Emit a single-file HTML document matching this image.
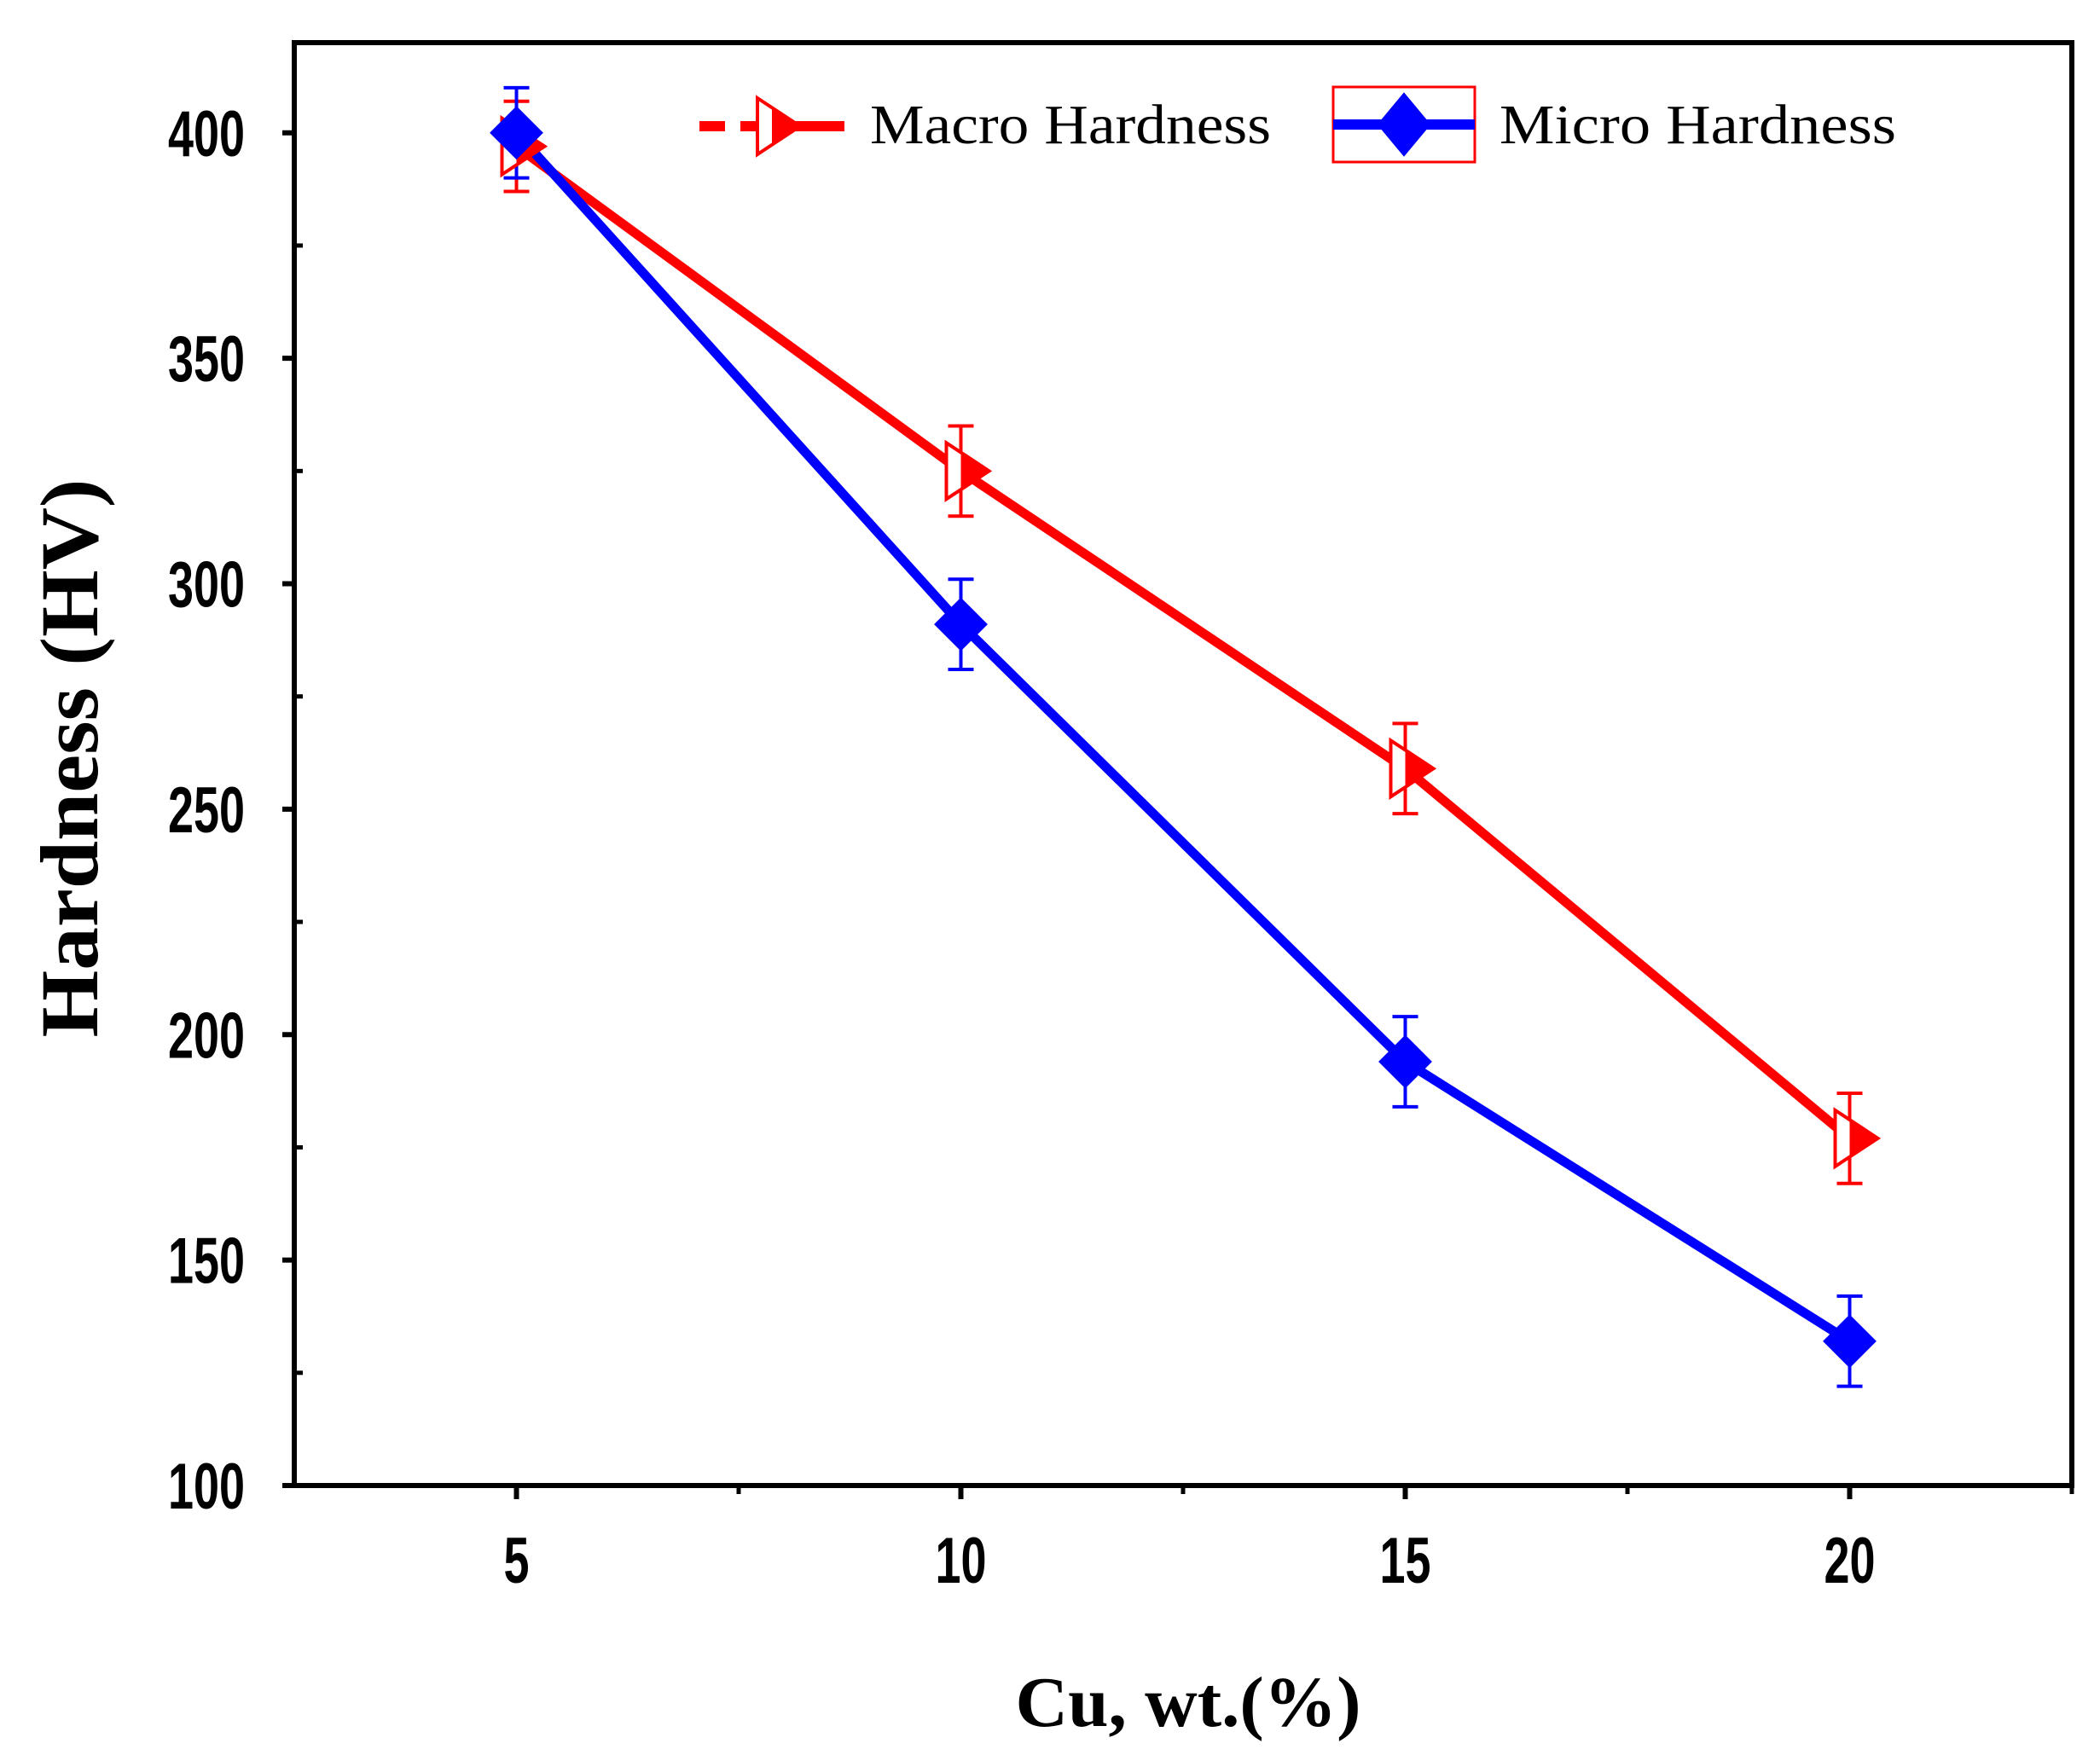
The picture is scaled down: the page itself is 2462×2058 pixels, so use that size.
<!DOCTYPE html>
<html><head><meta charset="utf-8"><style>
body{margin:0;background:#fff}
svg{display:block}
</style></head><body>
<svg width="2462" height="2058" viewBox="0 0 2462 2058" xmlns="http://www.w3.org/2000/svg">
<g id="chart"></g>
</svg>
<script>
const xCats=[5,10,15,20];
const macroVals=[397,325,259,177];
const microVals=[400,291,194,132];
const macroErr=[10,10,10,10];
const microErr=[10,10,10,10];
const yTicks=[100,150,200,250,300,350,400];
const xTicks=[5,10,15,20];

const L=345,R=2429,T=50,B=1742;
const xMin=2.5,xMax=22.5,yMin=100,yMax=420;
function sx(v){return L+(v-xMin)/(xMax-xMin)*(R-L);}
function sy(v){return B-(v-yMin)/(yMax-yMin)*(B-T);}
const NS='http://www.w3.org/2000/svg';
const g=document.getElementById('chart');
function mk(tag,attrs,parent){const e=document.createElementNS(NS,tag);for(const k in attrs)e.setAttribute(k,attrs[k]);(parent||g).appendChild(e);return e;}

const frame=mk('rect',{x:L,y:T,width:R-L,height:B-T,fill:'none',stroke:'#000','stroke-width':6});



yTicks.forEach(v=>{
  const t=mk('line',{x1:L-14,x2:L,y1:sy(v),y2:sy(v),stroke:'#000','stroke-width':6});
  
  
  if(v+25<yMax){
    const m=mk('line',{x1:L,x2:L+10,y1:sy(v+25),y2:sy(v+25),stroke:'#000','stroke-width':5});
    
    
  }
  const s=String(v);
  const tx=mk('text',{x:L-58,y:sy(v)+27,'text-anchor':'end','font-family':'Liberation Sans, sans-serif','font-weight':'bold','font-size':76,textLength:s.length*30,lengthAdjust:'spacingAndGlyphs'});
  tx.textContent=s;
  
  
});
xTicks.forEach(v=>{
  const t=mk('line',{x1:sx(v),x2:sx(v),y1:B,y2:B+16,stroke:'#000','stroke-width':6});
  
  
  const m=mk('line',{x1:sx(v+2.5),x2:sx(v+2.5),y1:B,y2:B+10,stroke:'#000','stroke-width':5});
  
  
  const s=String(v);
  const tx=mk('text',{x:sx(v),y:B+114,'text-anchor':'middle','font-family':'Liberation Sans, sans-serif','font-weight':'bold','font-size':76,textLength:s.length*30,lengthAdjust:'spacingAndGlyphs'});
  tx.textContent=s;
  
  
});

const yt=mk('text',{x:0,y:0,transform:'translate(114,889) rotate(-90)','text-anchor':'middle','font-family':'Liberation Serif, serif','font-weight':'bold','font-size':96,textLength:655,lengthAdjust:'spacingAndGlyphs'});
yt.textContent='Hardness (HV)';


const xt=mk('text',{x:1393,y:2024,'text-anchor':'middle','font-family':'Liberation Serif, serif','font-weight':'bold','font-size':84,textLength:405,lengthAdjust:'spacingAndGlyphs'});
xt.textContent='Cu, wt.(%)';



function series(vals,errs,color,name){
  const pts=vals.map((v,i)=>[sx(xCats[i]),sy(v)]);
  const d=pts.map((p,i)=>(i?'L':'M')+p[0]+' '+p[1]).join(' ');
  const ln=mk('path',{d:d,fill:'none',stroke:color,'stroke-width':11,'stroke-linejoin':'round'});
  
  
  pts.forEach((p,i)=>{
    const e=errs[i];
    const y1=sy(vals[i]+e),y2=sy(vals[i]-e);
    const eb=mk('path',{d:`M${p[0]} ${y1}L${p[0]} ${y2}M${p[0]-15} ${y1}L${p[0]+15} ${y1}M${p[0]-15} ${y2}L${p[0]+15} ${y2}`,stroke:color,'stroke-width':4,fill:'none'});
    
    
  });
  return pts;
}
function triMarker(x,y,parent){
  const m=mk('g',{},parent);
  mk('path',{d:`M${x-17} ${y-33}L${x+33} ${y}L${x-17} ${y+33}Z`,fill:'#fff',stroke:'red','stroke-width':4},m);
  mk('path',{d:`M${x} ${y-22}L${x+33} ${y}L${x} ${y+22}Z`,fill:'red'},m);
  return m;
}
function diaMarker(x,y,parent){
  return mk('path',{d:`M${x} ${y-30}L${x+30} ${y}L${x} ${y+30}L${x-30} ${y}Z`,fill:'#0000ff',stroke:'#0000ff','stroke-width':2},parent);
}
const macroPts=series(macroVals,macroErr,'#ff0000','macro');
const microPts=series(microVals,microErr,'#0000ff','micro');
macroPts.forEach(p=>{const m=triMarker(p[0],p[1]);
  
  });
microPts.forEach(p=>{const m=diaMarker(p[0],p[1]);
  
  });

const lg=mk('g',{});


const l1=mk('g',{},lg);


mk('line',{x1:820,x2:990,y1:148,y2:148,stroke:'red','stroke-width':12,'stroke-dasharray':'30 18 200'},l1);
triMarker(905,148,l1);
const t1=mk('text',{x:1020,y:168,'font-family':'Liberation Serif, serif','font-size':66,textLength:470,lengthAdjust:'spacingAndGlyphs'},l1);
t1.textContent='Macro Hardness';
const l2=mk('g',{},lg);


mk('rect',{x:1563,y:102,width:166,height:88,fill:'none',stroke:'red','stroke-width':3},l2);
mk('line',{x1:1563,x2:1729,y1:146,y2:146,stroke:'#0000ff','stroke-width':12},l2);
diaMarker(1646,146,l2).setAttribute('transform','translate(1646 146) scale(1,1.2) translate(-1646 -146)');
const t2=mk('text',{x:1758,y:168,'font-family':'Liberation Serif, serif','font-size':66,textLength:465,lengthAdjust:'spacingAndGlyphs'},l2);
t2.textContent='Micro Hardness';
</script>
</body></html>
